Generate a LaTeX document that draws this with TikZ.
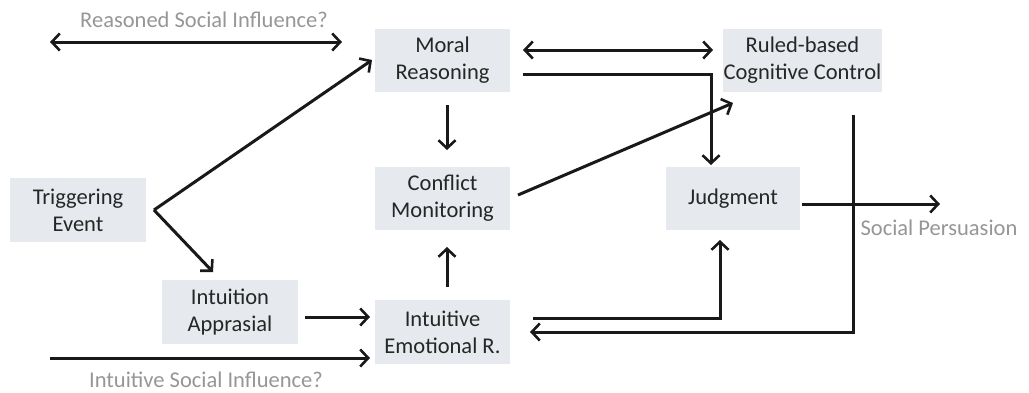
\documentclass[tikz,border=0pt]{standalone}
\usepackage{fontspec}
\setmainfont{Carlito}
\usetikzlibrary{arrows.meta}
\definecolor{boxfill}{RGB}{230,233,237}
\definecolor{labgray}{RGB}{150,150,150}
\definecolor{linecol}{RGB}{25,25,25}
\tikzset{
  box/.style={fill=boxfill, inner sep=0pt, align=center, font=\fontsize{22.5}{27}\selectfont, text=black!85},
  tip/.style={},
  arr/.style={draw=linecol, line width=3pt, -{Straight Barb[length=8pt,width=17pt,line width=2.6pt]}},
  darr/.style={draw=linecol, line width=3pt, {Straight Barb[length=8pt,width=17pt,line width=2.6pt]}-{Straight Barb[length=8pt,width=17pt,line width=2.6pt]}},
  lab/.style={font=\fontsize{22.5}{27}\selectfont, text=labgray, inner sep=0pt, anchor=base}
}
\begin{document}
\begin{tikzpicture}[x=1pt,y=-1pt]
\useasboundingbox (0,0) rectangle (1029,392);
% boxes
\node[box, minimum width=135pt, minimum height=63pt] (moral) at (442.5,60.5) {Moral\\Reasoning};
\node[box, minimum width=159pt, minimum height=63pt] (ruled) at (802.5,60.5) {Ruled-based\\Cognitive Control};
\node[box, minimum width=135pt, minimum height=63pt] (conflict) at (442.5,198.5) {Conflict\\Monitoring};
\node[box, minimum width=136pt, minimum height=64pt] (trig) at (78,210) {Triggering\\Event};
\node[box, minimum width=136pt, minimum height=64pt] (intuit) at (230,312) {Intuition\\Apprasial};
\node[box, minimum width=135pt, minimum height=64pt] (emo) at (442.5,332) {Intuitive\\Emotional R.};
\node[box, minimum width=134pt, minimum height=63pt] (judg) at (733,198.5) {Judgment};
% labels
\node[lab] (rsl) at (204,27) {Reasoned Social Influence?};
\node[lab] (isl) at (206,387) {Intuitive Social Influence?};
\node[lab] (spl) at (939,235) {Social Persuasion};
% coordinates
\coordinate (rsA) at (50,42);
\coordinate (rsB) at (342,42);
\coordinate (mrA) at (523,50);
\coordinate (mrB) at (713,50);
\coordinate (mjA) at (523,74);
\coordinate (mjB) at (711,165);
\coordinate (tv) at (154,210);
\coordinate (tmB) at (372,60);
\coordinate (tiB) at (213,272);
\coordinate (mcA) at (447,105);
\coordinate (mcB) at (447,150);
\coordinate (ecA) at (447,287);
\coordinate (ecB) at (447,247);
\coordinate (crA) at (518,195);
\coordinate (crB) at (733,103);
\coordinate (ieA) at (305,317);
\coordinate (ieB) at (370,317);
\coordinate (isA) at (50,358);
\coordinate (isB) at (370,358);
\coordinate (ejA) at (533,318);
\coordinate (ejB) at (720,240);
\coordinate (reA) at (853,115);
\coordinate (reB) at (530,332);
\coordinate (jsA) at (802,204);
\coordinate (jsB) at (940,204);
% connectors
\draw[darr] (rsA) -- (rsB);
\draw[darr] (mrA) -- (mrB);
\draw[arr] (mjA) -| (mjB);
\draw[arr] (tv) -- (tmB);
\draw[arr] (tv) -- (tiB);
\draw[arr] (mcA) -- (mcB);
\draw[arr] (ecA) -- (ecB);
\draw[arr] (crA) -- (crB);
\draw[arr] (ieA) -- (ieB);
\draw[arr] (isA) -- (isB);
\draw[arr] (ejA) -| (ejB);
\draw[arr] (reA) |- (reB);
\draw[arr] (jsA) -- (jsB);
\end{tikzpicture}
\end{document}
